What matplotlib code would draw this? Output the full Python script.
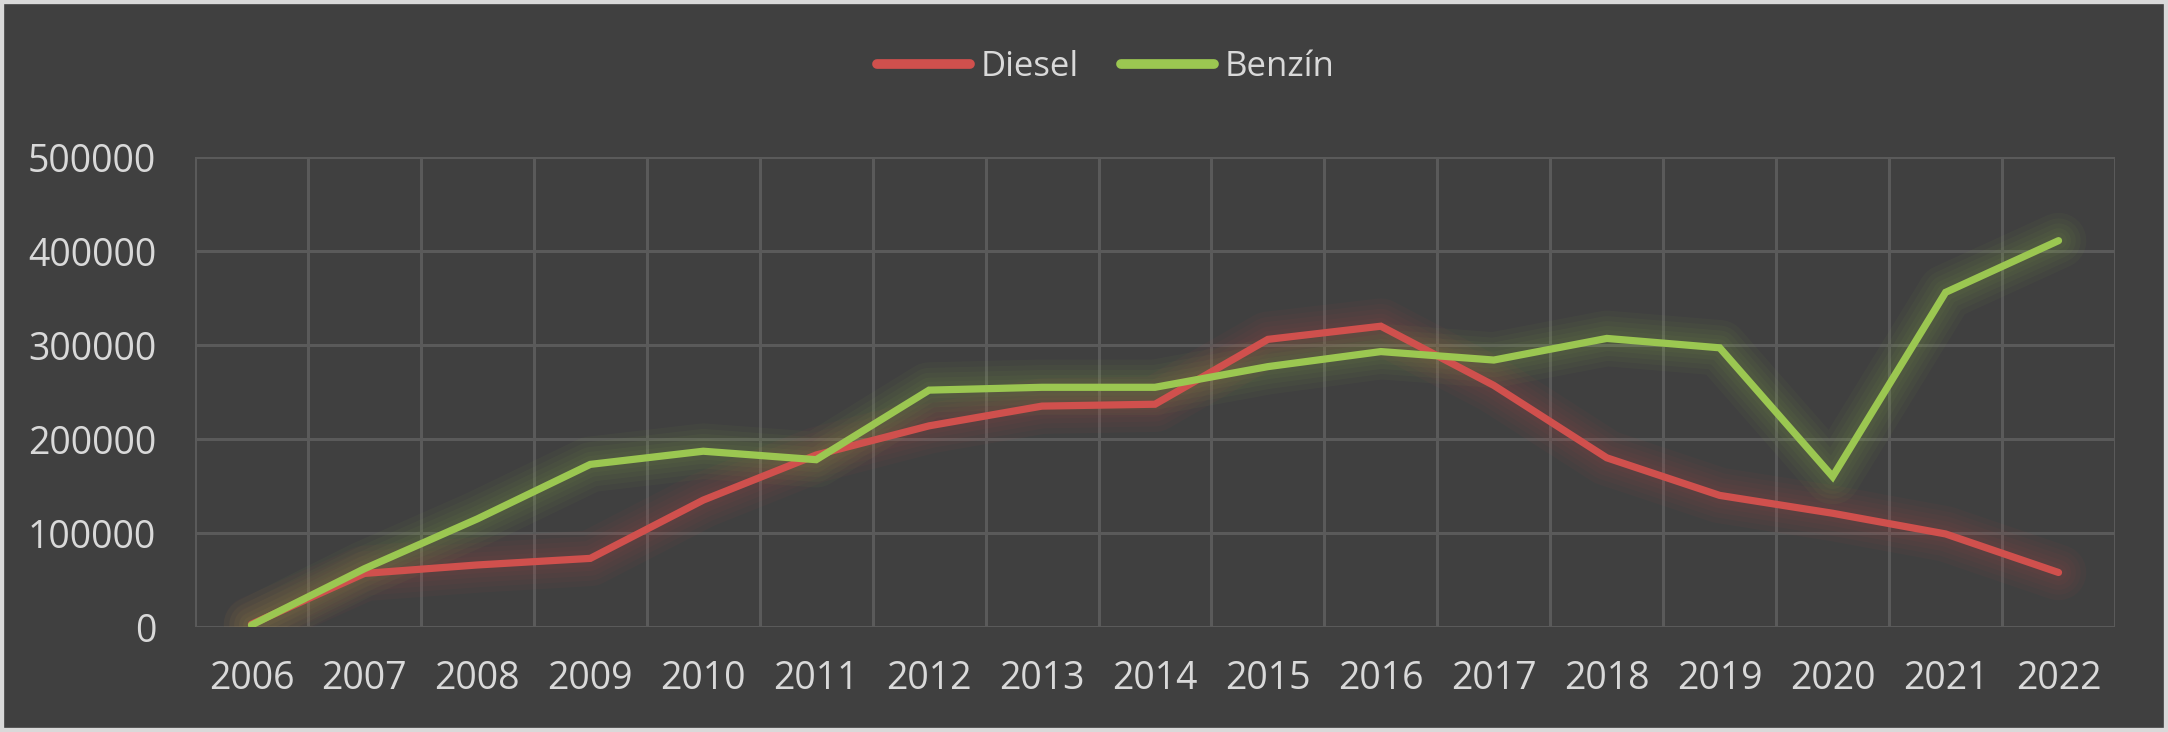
import matplotlib.pyplot as plt
from matplotlib.patches import Rectangle

years = [str(y) for y in range(2006, 2023)]
diesel = [3000, 57000, 66000, 73000, 135000, 183000, 214000, 235000, 237000,
          306000, 320000, 257000, 180000, 140000, 121000, 99000, 58000]
benzin = [2000, 62000, 115000, 173000, 187000, 178000, 252000, 255000, 255000,
          277000, 293000, 284000, 307000, 297000, 160000, 356000, 411000]

BG = "#404040"
TXT = "#d9d9d9"
GRID = "#5a5a5a"
RED = "#d0504d"
GREEN = "#9bc751"

plt.rcParams["font.family"] = ["Open Sans", "DejaVu Sans"]

fig = plt.figure(figsize=(21.68, 7.32), dpi=100, facecolor=BG)
ax = fig.add_axes([195 / 2168, 1 - 627 / 732, (2115 - 195) / 2168, (627 - 157) / 732])
ax.set_facecolor(BG)

x = list(range(len(years)))
for vals, col in [(diesel, RED), (benzin, GREEN)]:
    # soft glow behind each series
    for w in [40, 32, 25, 18, 12]:
        ax.plot(x, vals, color=col, lw=w, alpha=0.045, solid_capstyle="round",
                solid_joinstyle="round", zorder=2)
ax.plot(x, diesel, color=RED, lw=5.2, solid_capstyle="round", solid_joinstyle="miter",
        label="Diesel", zorder=4)
ax.plot(x, benzin, color=GREEN, lw=5.2, solid_capstyle="round", solid_joinstyle="miter",
        label="Benzín", zorder=5)

ax.set_xlim(-0.5, len(years) - 0.5)
ax.set_ylim(0, 500000)
ax.set_yticks(range(0, 500001, 100000))
ax.set_xticks(x)
ax.set_xticklabels(years)
ax.set_xticks([i - 0.5 for i in range(len(years) + 1)], minor=True)
ax.grid(True, axis="y", color=GRID, lw=2.2, zorder=0)
ax.grid(True, axis="x", which="minor", color=GRID, lw=2.2, zorder=0)
ax.tick_params(which="both", length=0)
ax.tick_params(axis="y", colors=TXT, labelsize=27, pad=28)
ax.tick_params(axis="x", colors=TXT, labelsize=27, pad=24)
for s in ax.spines.values():
    s.set_visible(False)

leg = fig.legend(loc="center", bbox_to_anchor=(0.51, 0.908), ncol=2, frameon=False,
                 fontsize=25, handlelength=2.7, columnspacing=1.2, handletextpad=0.3)
for t in leg.get_texts():
    t.set_color(TXT)
for h in leg.legend_handles:
    h.set_linewidth(7)

fig.patches.append(Rectangle((0, 0), 1, 1, transform=fig.transFigure, fill=False,
                             edgecolor="#d9d9d9", lw=6))
fig.savefig("out.png", dpi=100, facecolor=BG)
